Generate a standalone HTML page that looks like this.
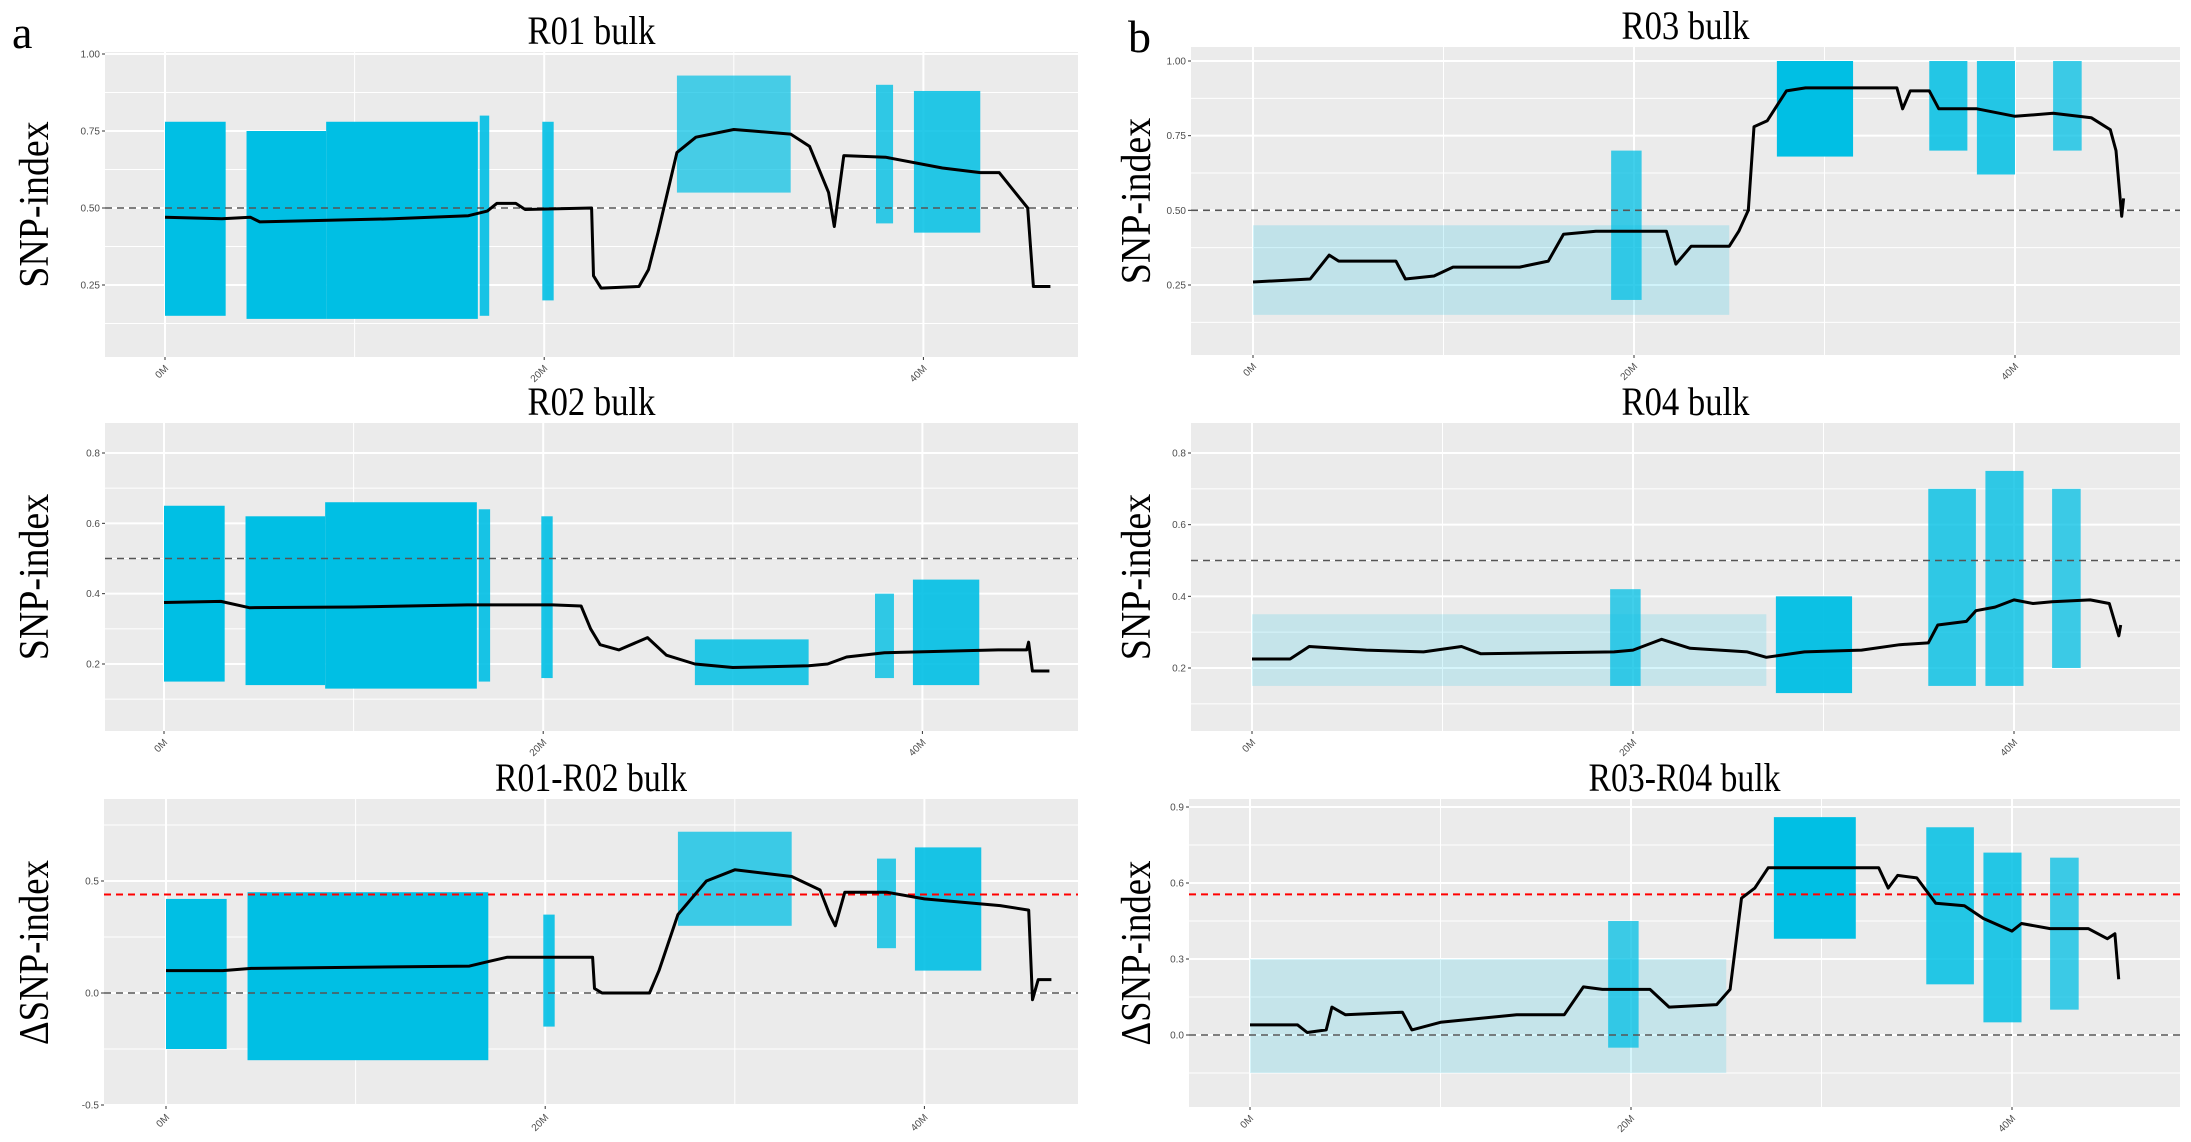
<!DOCTYPE html>
<html><head><meta charset="utf-8">
<style>
html,body{margin:0;padding:0;background:#fff;}
svg{display:block;}
text{font-family:"Liberation Serif",serif;}
.tk{font-family:"Liberation Sans",sans-serif;font-size:10px;fill:#4d4d4d;}
</style></head>
<body>
<svg id="fig" width="2191" height="1142" viewBox="0 0 2191 1142" xmlns="http://www.w3.org/2000/svg">
<text x="12" y="48" font-size="46">a</text>
<text x="1128" y="52" font-size="46">b</text>
</svg>
<script>
// ---------- data (positions in Mb, values = SNP-index) ----------
// clusters: [startMb, endMb, low, high, density]
const r01Clusters=[[0,3.2,0.15,0.78,1],[4.3,8.5,0.14,0.75,1],[8.5,16.5,0.14,0.78,1],[16.6,17.1,0.15,0.8,0.9],[19.9,20.5,0.2,0.78,0.9],[27,33,0.55,0.93,0.7],[37.5,38.4,0.45,0.9,0.8],[39.5,43,0.42,0.88,0.85]];
const r01Line=[[0,0.47],[3,0.465],[4.5,0.47],[5,0.455],[12,0.465],[16,0.475],[17,0.49],[17.5,0.515],[18.5,0.515],[19,0.495],[22.5,0.5],[22.6,0.28],[23,0.24],[25,0.245],[25.5,0.3],[26,0.42],[27,0.68],[28,0.73],[30,0.755],[31,0.75],[33,0.74],[34,0.7],[35,0.55],[35.3,0.44],[35.8,0.67],[38,0.665],[41,0.63],[43,0.615],[44,0.615],[45.5,0.5],[45.8,0.245],[46.7,0.245]];
const r02Clusters=[[0,3.2,0.15,0.65,1],[4.3,8.5,0.14,0.62,1],[8.5,16.5,0.13,0.66,1],[16.6,17.2,0.15,0.64,0.9],[19.9,20.5,0.16,0.62,0.9],[28,34,0.14,0.27,0.85],[37.5,38.5,0.16,0.4,0.8],[39.5,43,0.14,0.44,0.9]];
const r02Line=[[0,0.375],[3,0.378],[4.5,0.36],[10,0.362],[16,0.368],[20.5,0.368],[22,0.365],[22.5,0.3],[23,0.255],[24,0.24],[25.5,0.275],[26.5,0.225],[28,0.2],[30,0.19],[34,0.195],[35,0.2],[36,0.22],[38,0.232],[44,0.24],[45.5,0.24],[45.6,0.262],[45.8,0.18],[46.7,0.18]];
const d12Clusters=[[0,3.2,-0.25,0.42,1],[4.3,17,-0.3,0.45,1],[19.9,20.5,-0.15,0.35,0.9],[27,33,0.3,0.72,0.75],[37.5,38.5,0.2,0.6,0.8],[39.5,43,0.1,0.65,0.9]];
const d12Line=[[0,0.1],[3,0.1],[4.5,0.11],[16,0.12],[17,0.14],[18,0.16],[22.5,0.16],[22.6,0.02],[23,0.0],[25.5,0.0],[26,0.1],[27,0.35],[28.5,0.5],[30,0.55],[33,0.52],[34.5,0.46],[35,0.35],[35.3,0.3],[35.8,0.45],[38,0.45],[40,0.42],[44,0.39],[45.5,0.37],[45.7,-0.03],[46,0.06],[46.7,0.06]];
const r03Clusters=[[0,25,0.15,0.45,0.18],[18.8,20.4,0.2,0.7,0.75],[27.5,31.5,0.68,1.0,1],[35.5,37.5,0.7,1.0,0.85],[38,40,0.62,1.0,0.85],[42,43.5,0.7,1.0,0.75]];
const r03Line=[[0,0.26],[3,0.27],[4,0.35],[4.5,0.33],[7.5,0.33],[8,0.27],[9.5,0.28],[10.5,0.31],[14,0.31],[15.5,0.33],[16.3,0.42],[18,0.43],[21.7,0.43],[22.2,0.32],[23,0.38],[25,0.38],[25.5,0.43],[26,0.5],[26.3,0.78],[27,0.8],[28,0.9],[29,0.91],[33,0.91],[33.8,0.91],[34.1,0.84],[34.5,0.9],[35.5,0.9],[36,0.84],[38,0.84],[40,0.815],[42,0.825],[44,0.81],[45,0.77],[45.3,0.7],[45.6,0.48],[45.7,0.54]];
const r04Clusters=[[0,27,0.15,0.35,0.16],[18.8,20.4,0.15,0.42,0.75],[27.5,31.5,0.13,0.4,0.95],[35.5,38,0.15,0.7,0.8],[38.5,40.5,0.15,0.75,0.8],[42,43.5,0.2,0.7,0.75]];
const r04Line=[[0,0.225],[2,0.225],[3,0.26],[6,0.25],[9,0.245],[11,0.26],[12,0.24],[19,0.245],[20,0.25],[21.5,0.28],[23,0.255],[26,0.245],[27,0.23],[29,0.245],[32,0.25],[34,0.265],[35.5,0.27],[36,0.32],[37.5,0.33],[38,0.36],[39,0.37],[40,0.39],[41,0.38],[42,0.385],[44,0.39],[45,0.38],[45.5,0.29],[45.6,0.32]];
const d34Clusters=[[0,25,-0.15,0.3,0.16],[18.8,20.4,-0.05,0.45,0.75],[27.5,31.8,0.38,0.86,1],[35.5,38,0.2,0.82,0.85],[38.5,40.5,0.05,0.72,0.85],[42,43.5,0.1,0.7,0.75]];
const d34Line=[[0,0.04],[2.5,0.04],[3,0.01],[4,0.02],[4.3,0.11],[5,0.08],[8,0.09],[8.5,0.02],[10,0.05],[14,0.08],[16.5,0.08],[17.5,0.19],[18.5,0.18],[21,0.18],[22,0.11],[24.5,0.12],[25.2,0.18],[25.8,0.54],[26.5,0.58],[27.2,0.66],[33,0.66],[33.5,0.58],[34,0.63],[35,0.62],[36,0.52],[37.5,0.51],[38.5,0.46],[40,0.41],[40.5,0.44],[42,0.42],[44,0.42],[45,0.38],[45.4,0.4],[45.6,0.22]];

// tick labels
const xTickLabels=["0M","20M","40M"];
const xTickValues=[0,20,40];
const yTicksA=[0.25,0.50,0.75,1.00];
const yTicksB=[0.2,0.4,0.6,0.8];
const yTicksD12=[-0.5,0.0,0.5];
const yTicksD34=[0.0,0.3,0.6,0.9];

// ---------- layout ----------
const panels=[
 {name:"r01",title:"R01 bulk",yl:"SNP-index",x0:105,x1:1078,y0:52,y1:357,px0:165,pxPerMb:18.96,v0:0.25,pv0:285,v1:1.0,pv1:54,ticks:yTicksA,fmt:2,cl:r01Clusters,ln:r01Line,ref:[[0.5,"#555"]],lbx:48},
 {name:"r02",title:"R02 bulk",yl:"SNP-index",x0:105,x1:1078,y0:423,y1:731,px0:164,pxPerMb:18.96,v0:0.2,pv0:664,v1:0.8,pv1:453,ticks:yTicksB,fmt:1,cl:r02Clusters,ln:r02Line,ref:[[0.5,"#555"]],lbx:48},
 {name:"d12",title:"R01-R02 bulk",yl:"\u0394SNP-index",x0:104,x1:1078,y0:799,y1:1106,px0:166,pxPerMb:18.96,v0:-0.5,pv0:1105,v1:0.5,pv1:881,ticks:yTicksD12,fmt:1,cl:d12Clusters,ln:d12Line,ref:[[0.44,"#ff0000"],[0,"#555"]],lbx:48},
 {name:"r03",title:"R03 bulk",yl:"SNP-index",x0:1191,x1:2180,y0:47,y1:355,px0:1253,pxPerMb:19.05,v0:0.25,pv0:285,v1:1.0,pv1:61,ticks:yTicksA,fmt:2,cl:r03Clusters,ln:r03Line,ref:[[0.5,"#555"]],lbx:1150},
 {name:"r04",title:"R04 bulk",yl:"SNP-index",x0:1191,x1:2180,y0:423,y1:731,px0:1252,pxPerMb:19.05,v0:0.2,pv0:668,v1:0.8,pv1:453,ticks:yTicksB,fmt:1,cl:r04Clusters,ln:r04Line,ref:[[0.5,"#555"]],lbx:1150},
 {name:"d34",title:"R03-R04 bulk",yl:"\u0394SNP-index",x0:1189,x1:2180,y0:799,y1:1107,px0:1250,pxPerMb:19.05,v0:0.0,pv0:1035,v1:0.9,pv1:807,ticks:yTicksD34,fmt:1,cl:d34Clusters,ln:d34Line,ref:[[0.555,"#ff0000"],[0,"#555"]],lbx:1150}
];
const NS="http://www.w3.org/2000/svg";
const svg=document.getElementById("fig");
function mk(tag,attrs,parent){const e=document.createElementNS(NS,tag);for(const k in attrs)e.setAttribute(k,attrs[k]);(parent||svg).appendChild(e);return e;}

panels.forEach(p=>{
 const g=mk("g",{});
 
 
 const xs=m=>p.px0+m*p.pxPerMb;
 const ys=v=>p.pv0+(v-p.v0)*(p.pv1-p.pv0)/(p.v1-p.v0);
 const bg=mk("rect",{x:p.x0,y:p.y0,width:p.x1-p.x0,height:p.y1-p.y0,fill:"#ebebeb"},g);
 
 
 const step=p.ticks[1]-p.ticks[0];
 for(let i=0;i<p.ticks.length;i++){
  const v=p.ticks[i];
  mk("line",{x1:p.x0,x2:p.x1,y1:ys(v),y2:ys(v),stroke:"#fff","stroke-width":2},g);
  const mv=v-step/2, my=ys(mv);
  if(my<p.y1&&my>p.y0) mk("line",{x1:p.x0,x2:p.x1,y1:my,y2:my,stroke:"#fff","stroke-width":1},g);
  if(i==p.ticks.length-1){const ty=ys(v+step/2); if(ty>p.y0) mk("line",{x1:p.x0,x2:p.x1,y1:ty,y2:ty,stroke:"#fff","stroke-width":1},g);}
  const t=mk("text",{x:p.x0-5,y:ys(v)+3.5,"text-anchor":"end",class:"tk"},g);
  t.textContent=v.toFixed(p.fmt);
  
  
  mk("line",{x1:p.x0-3,x2:p.x0,y1:ys(v),y2:ys(v),stroke:"#333","stroke-width":1},g);
 }
 [10,30].forEach(m=>mk("line",{x1:xs(m),x2:xs(m),y1:p.y0,y2:p.y1,stroke:"#fff","stroke-width":1},g));
 xTickValues.forEach((m,i)=>{
  mk("line",{x1:xs(m),x2:xs(m),y1:p.y0,y2:p.y1,stroke:"#fff","stroke-width":2},g);
  mk("line",{x1:xs(m),x2:xs(m),y1:p.y1,y2:p.y1+3,stroke:"#333","stroke-width":1},g);
  const t=mk("text",{x:xs(m)+4,y:p.y1+12,"text-anchor":"end",class:"tk",transform:`rotate(-45 ${xs(m)+4} ${p.y1+12})`},g);
  t.textContent=xTickLabels[i];
  
  
 });
 p.cl.forEach(c=>{
  const r=mk("rect",{x:xs(c[0]),y:ys(c[3]),width:Math.max(2,xs(c[1])-xs(c[0])),height:ys(c[2])-ys(c[3]),fill:"#00bfe4","fill-opacity":c[4]},g);
  
  
 });
 p.ref.forEach(rf=>{
  const l=mk("line",{x1:p.x0,x2:p.x1,y1:ys(rf[0]),y2:ys(rf[0]),stroke:rf[1],"stroke-width":rf[1]=="#ff0000"?2:1.6,"stroke-dasharray":"7,5"},g);
  
  
 });
 let d="";
 p.ln.forEach((pt,i)=>{d+=(i?"L":"M")+xs(pt[0]).toFixed(1)+","+ys(pt[1]).toFixed(1);});
 const path=mk("path",{d:d,fill:"none",stroke:"#000","stroke-width":3,"stroke-linejoin":"round"},g);
 
 
 const tt=mk("text",{x:(p.x0+p.x1)/2,y:p.y0-8,"text-anchor":"middle","font-size":40,"textLength":p.title.length*16,"lengthAdjust":"spacingAndGlyphs"},g);
 tt.textContent=p.title;
 
 
 const cy=(p.y0+p.y1)/2;
 const yl=mk("text",{x:p.lbx,y:cy,"text-anchor":"middle","font-size":42,"textLength":p.yl.length*18.5,"lengthAdjust":"spacingAndGlyphs",transform:`rotate(-90 ${p.lbx} ${cy})`},g);
 yl.textContent=p.yl;
 
 
});
</script>
</body></html>
